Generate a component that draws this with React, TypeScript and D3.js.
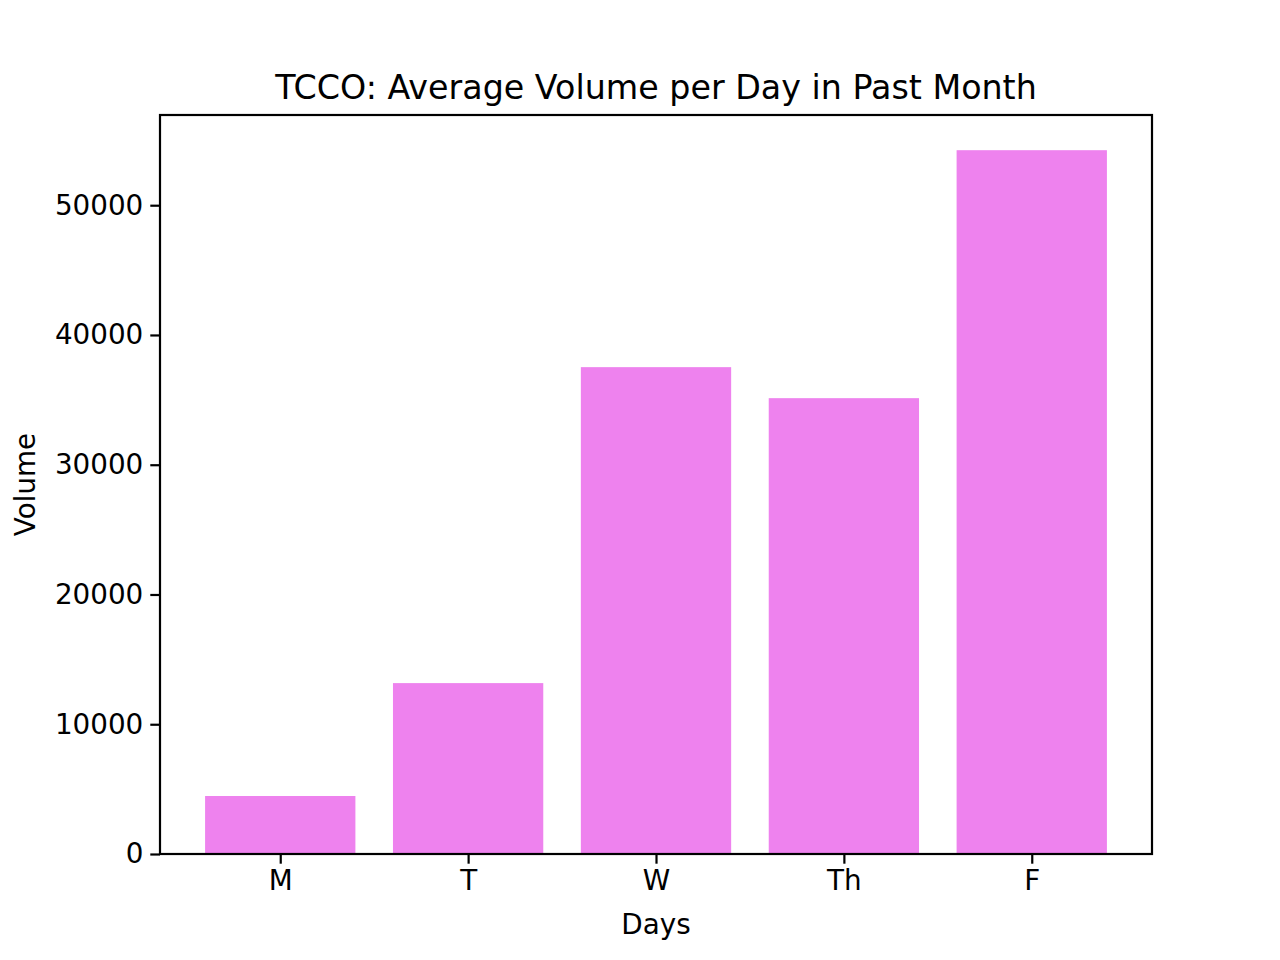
import React, { useEffect, useRef } from "react";
import * as d3 from "d3";

const days = ["M", "T", "W", "Th", "F"];
const volumes = [4470, 13170, 37520, 35130, 54240];
const yTicks = [0, 10000, 20000, 30000, 40000, 50000];

const W = 1280;
const H = 960;
const m = { left: 160, right: 1152, top: 115, bottom: 854 };

const App: React.FC = () => {
  const svgRef: any = useRef();

  useEffect(() => {
    const svg = d3.select(svgRef.current);
    svg.selectAll("*").remove();
    const font = "DejaVu Sans, sans-serif";

    const x = d3.scaleLinear().domain([-0.64, 4.64]).range([m.left, m.right]);
    const maxV = d3.max(volumes) as number;
    const y = d3.scaleLinear().domain([0, maxV * 1.05]).range([m.bottom, m.top]);

    svg
      .selectAll("rect.bar")
      .data(volumes)
      .enter()
      .append("rect")
      .attr("class", "bar")
      .attr("x", (_d, i) => x(i - 0.4))
      .attr("width", x(0.8) - x(0))
      .attr("y", (d) => y(d))
      .attr("height", (d) => y(0) - y(d))
      .attr("fill", "violet");

    const xAxis = d3
      .axisBottom(x)
      .tickValues(days.map((_d, i) => i))
      .tickFormat((_d, i) => days[i])
      .tickSize(9.7)
      .tickPadding(7);
    const gx = svg.append("g").attr("transform", `translate(0,${m.bottom})`).call(xAxis);

    const yAxis = d3
      .axisLeft(y)
      .tickValues(yTicks)
      .tickFormat((d) => String(d))
      .tickSize(9.7)
      .tickPadding(7);
    const gy = svg.append("g").attr("transform", `translate(${m.left},0)`).call(yAxis);

    [gx, gy].forEach((g) => {
      g.select(".domain").remove();
      g.selectAll("line").attr("stroke", "#000").attr("stroke-width", 2.2);
      g.selectAll("text").attr("font-family", font).attr("font-size", 27.8).attr("fill", "#000");
    });

    svg
      .append("rect")
      .attr("x", m.left)
      .attr("y", m.top)
      .attr("width", m.right - m.left)
      .attr("height", m.bottom - m.top)
      .attr("fill", "none")
      .attr("stroke", "#000")
      .attr("stroke-width", 2.2);

    svg
      .append("text")
      .attr("x", (m.left + m.right) / 2)
      .attr("y", 99)
      .attr("text-anchor", "middle")
      .attr("font-family", font)
      .attr("font-size", 33.3)
      .text("TCCO: Average Volume per Day in Past Month");

    svg
      .append("text")
      .attr("x", (m.left + m.right) / 2)
      .attr("y", 934)
      .attr("text-anchor", "middle")
      .attr("font-family", font)
      .attr("font-size", 27.8)
      .text("Days");

    svg
      .append("text")
      .attr("transform", `translate(35,${(m.top + m.bottom) / 2}) rotate(-90)`)
      .attr("text-anchor", "middle")
      .attr("font-family", font)
      .attr("font-size", 27.8)
      .text("Volume");
  }, []);

  return (
    <svg
      ref={svgRef}
      width={W}
      height={H}
      style={{ position: "absolute", left: 0, top: 0, background: "#fff" }}
    ></svg>
  );
};

export default App;
